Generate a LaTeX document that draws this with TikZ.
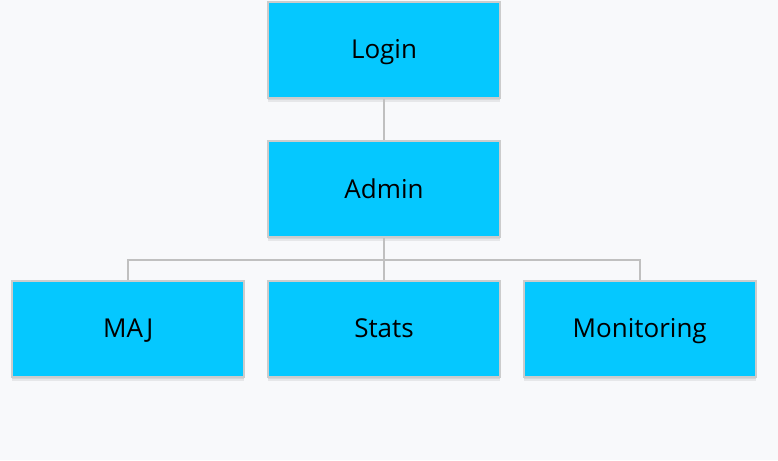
\documentclass[tikz,border=0pt]{standalone}
\usepackage{fontspec}
\setmainfont{Open Sans}
\usetikzlibrary{positioning,shadows}
\definecolor{boxcyan}{RGB}{5,200,255}
\definecolor{boxedge}{RGB}{204,204,204}
\definecolor{linkgray}{RGB}{192,192,192}
\definecolor{paper}{RGB}{248,249,251}
\tikzset{
  cyan box/.style={
    fill=boxcyan,
    draw=boxedge,
    line width=2pt,
    minimum width=232pt,
    minimum height=96pt,
    font=\fontsize{26}{30}\selectfont,
    text height=17.6pt,
    text depth=0pt,
    drop shadow={shadow xshift=0pt, shadow yshift=-4pt, opacity=0.07, fill=black},
    drop shadow={shadow xshift=0pt, shadow yshift=-2pt, opacity=0.07, fill=black},
  },
  link/.style={
    draw=linkgray,
    line width=2pt,
  }
}

\begin{document}
\begin{tikzpicture}[node distance=41.5pt and 21.7pt]
  \fill [paper] (0pt,0pt) rectangle (778pt,-460pt);
  \useasboundingbox (0pt,0pt) rectangle (778pt,-460pt);

  \node [cyan box] (login) at (384pt,-49.8pt) {Login};
  \node [cyan box, below=of login] (admin) {Admin};
  \node [cyan box, below=of admin] (stats) {Stats};
  \node [cyan box, left=of stats] (maj) {MAJ};
  \node [cyan box, right=of stats] (monitoring) {Monitoring};

  \coordinate [below=22pt of admin] (fork);

  \draw [link] (login) -- (admin);
  \draw [link] (admin) -- (fork);
  \foreach \child in {maj,stats,monitoring}
    \draw [link] (fork) -| (\child);
\end{tikzpicture}
\end{document}
